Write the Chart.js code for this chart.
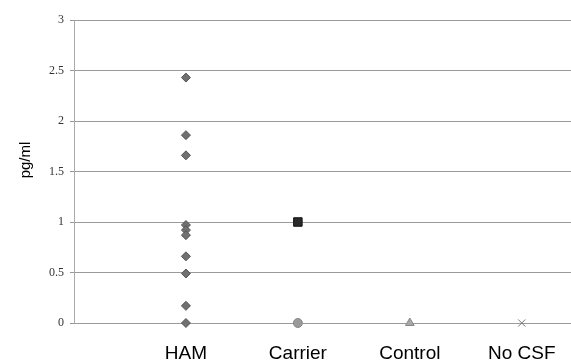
<!DOCTYPE html>
<html>
<head>
<meta charset="utf-8">
<script src="https://cdn.jsdelivr.net/npm/chart.js@4"></script>
<style>
  html, body { margin: 0; padding: 0; background: #fff; }
  #wrap { width: 571px; height: 363px; }
</style>
</head>
<body>
<div id="wrap"><canvas id="mycanvas"></canvas></div>
<script>
// groups along the x axis
var categories = ['HAM', 'Carrier', 'Control', 'No CSF'];
var yTicks = [0, 0.5, 1, 1.5, 2, 2.5, 3];
var yTitle = 'pg/ml';

// measured values, pg/ml
var hamValues = [2.43, 1.86, 1.66, 0.97, 0.92, 0.87, 0.66, 0.49, 0.17, 0];
var carrierValues = [1, 0];
var controlValues = [0];
var noCsfValues = [0];

function toPoints(values, idx) {
  var pts = [];
  for (var i in values) {
    pts.push({ x: idx + 1, y: values[i] });
  }
  return pts;
}

var chartdata = {
  datasets: [
    {
      label: 'HAM',
      data: toPoints(hamValues, 0),
      pointStyle: 'rectRot',
      pointRadius: 4.5,
      backgroundColor: '#707070',
      borderColor: '#555',
      borderWidth: 1,
      clip: false
    },
    {
      label: 'Carrier',
      data: toPoints(carrierValues, 1),
      pointStyle: ['rect', 'circle'],
      pointRadius: [6, 4.5],
      backgroundColor: ['#2a2a2a', '#9a9a9a'],
      borderColor: ['#111', '#888'],
      borderWidth: 1,
      clip: false
    },
    {
      label: 'Control',
      data: toPoints(controlValues, 2),
      pointStyle: 'triangle',
      pointRadius: 5,
      backgroundColor: '#a8a8a8',
      borderColor: '#888',
      borderWidth: 1,
      clip: false
    },
    {
      label: 'No CSF',
      data: toPoints(noCsfValues, 3),
      pointStyle: 'crossRot',
      pointRadius: 5,
      borderColor: '#777',
      borderWidth: 1,
      clip: false
    }
  ]
};

// y axis title sits a bit above the middle in the original
var yTitlePlugin = {
  id: 'yTitle',
  afterDraw: function (chart) {
    var c = chart.ctx;
    c.save();
    c.translate(26, 160);
    c.rotate(-Math.PI / 2);
    c.font = '15px "Liberation Sans", Arial';
    c.fillStyle = '#000';
    c.textAlign = 'center';
    c.textBaseline = 'middle';
    c.fillText(yTitle, 0, 0);
    c.restore();
  }
};

var ctx = document.getElementById('mycanvas');

var chart = new Chart(ctx, {
  type: 'scatter',
  data: chartdata,
  plugins: [yTitlePlugin],
  options: {
    responsive: true,
    maintainAspectRatio: false,
    animation: false,
    layout: { autoPadding: false, padding: { top: 20, right: 0, left: 0, bottom: 0 } },
    plugins: {
      legend: { display: false },
      tooltip: { enabled: false }
    },
    scales: {
      x: {
        type: 'linear',
        min: 0,
        max: 4.44,
        grid: { display: false, drawTicks: false },
        border: { display: false },
        afterBuildTicks: function (scale) {
          scale.ticks = categories.map(function (c, i) { return { value: i + 1 }; });
        },
        afterFit: function (scale) {
          scale.height = 40;
          scale.paddingLeft = 0;
          scale.paddingRight = 0;
        },
        ticks: {
          padding: 19,
          autoSkip: false,
          maxRotation: 0,
          color: '#000',
          font: { family: 'Liberation Sans, Arial', size: 19 },
          callback: function (value) { return categories[value - 1]; }
        }
      },
      y: {
        min: 0,
        max: 3,
        afterBuildTicks: function (scale) {
          scale.ticks = yTicks.map(function (v) { return { value: v }; });
        },
        afterFit: function (scale) { scale.width = 74; },
        grid: { color: '#9a9a9a', tickLength: 4, lineWidth: 1 },
        border: { color: '#aaa' },
        ticks: {
          padding: 6,
          color: '#333',
          font: { family: 'Liberation Serif, Times New Roman', size: 12 },
          callback: function (value) { return String(value); }
        }
      }
    }
  }
});
</script>
</body>
</html>
